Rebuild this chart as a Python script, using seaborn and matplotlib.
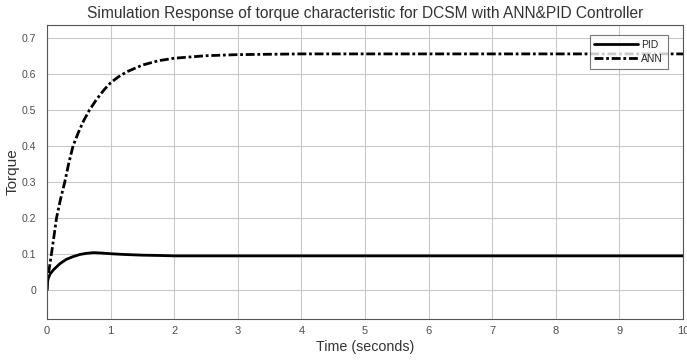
import pandas as pd
import matplotlib
matplotlib.use("Agg")
import matplotlib.pyplot as plt
import seaborn as sns

# values
pid_t = [0, 0.005, 0.02, 0.05, 0.1, 0.2, 0.3, 0.41, 0.52, 0.62, 0.73, 0.85, 1.0,
         1.2, 1.5, 1.8, 2.0, 2.5, 3, 4, 5, 6, 7, 8, 9, 10]
pid_y = [0, 0.02, 0.033, 0.045, 0.056, 0.073, 0.085, 0.093, 0.099, 0.102, 0.104, 0.103, 0.101,
         0.099, 0.097, 0.096, 0.095, 0.095, 0.095, 0.095, 0.095, 0.095, 0.095, 0.095, 0.095, 0.095]

ann_t = [0, 0.01, 0.04, 0.07, 0.11, 0.15, 0.21, 0.28, 0.34, 0.41, 0.5, 0.58, 0.67, 0.78, 0.9,
         1.0, 1.12, 1.25, 1.5, 1.75, 2.0, 2.5, 3, 4, 5, 6, 7, 8, 9, 10]
ann_y = [0, 0.03, 0.065, 0.1, 0.15, 0.2, 0.25, 0.3, 0.35, 0.4, 0.44, 0.471, 0.5, 0.529, 0.556,
         0.575, 0.591, 0.605, 0.624, 0.636, 0.643, 0.65, 0.653, 0.655, 0.655, 0.655, 0.655,
         0.655, 0.655, 0.655]

x_ticks = list(range(0, 11))
y_ticks = [0, 0.1, 0.2, 0.3, 0.4, 0.5, 0.6, 0.7]

df = pd.concat([
    pd.DataFrame({"t": pid_t, "torque": pid_y, "ctrl": "PID"}),
    pd.DataFrame({"t": ann_t, "torque": ann_y, "ctrl": "ANN"}),
], ignore_index=True)

sns.set_style("white")
plt.rcParams["font.family"] = ["Liberation Sans", "DejaVu Sans"]

text_col = "#4d4d4d"
fig = plt.figure(figsize=(6.87, 3.63), dpi=100)
ax = fig.add_axes([0.0684, 0.1212, 0.9258, 0.8098])

sns.lineplot(data=df, x="t", y="torque", hue="ctrl", style="ctrl",
             palette={"PID": "black", "ANN": "black"},
             dashes={"PID": "", "ANN": (3.2, 1.0, 1.0, 1.0)},
             linewidth=2.0, sort=False, ax=ax)

ax.set_xlim(0, 10)
ax.set_ylim(-0.08, 0.735)
ax.set_xticks(x_ticks)
ax.set_yticks(y_ticks)
ax.set_yticklabels(["0"] + [f"{v:.1f}" for v in y_ticks[1:]])
ax.tick_params(direction="in", length=3, labelsize=8, colors=text_col,
               labelcolor=text_col, pad=5)
ax.tick_params(axis="y", labelsize=7.6, pad=8)
ax.grid(True, color="#c9c9c9", linewidth=0.8)
for s in ax.spines.values():
    s.set_color("#555555")
    s.set_linewidth(0.8)

ax.set_title("Simulation Response of torque characteristic for DCSM with ANN&PID Controller",
             fontsize=11.2, color="#333333", pad=5)
ax.set_xlabel("Time (seconds)", fontsize=10.3, color="#333333", labelpad=3)
ax.set_ylabel("Torque", fontsize=11, color="#333333")
ax.yaxis.set_label_coords(-0.043, 0.5)

leg = ax.legend(loc="upper right", bbox_to_anchor=(0.976, 0.966), fontsize=7.5,
                frameon=True, fancybox=False, borderaxespad=0, handlelength=4.2,
                handletextpad=0.3, borderpad=0.45, labelspacing=0.4, title=None)
leg.get_frame().set_edgecolor("#555555")
leg.get_frame().set_linewidth(0.8)
for lh in leg.get_lines():
    lh.set_linewidth(2.0)

fig.savefig("out.png", dpi=100)
